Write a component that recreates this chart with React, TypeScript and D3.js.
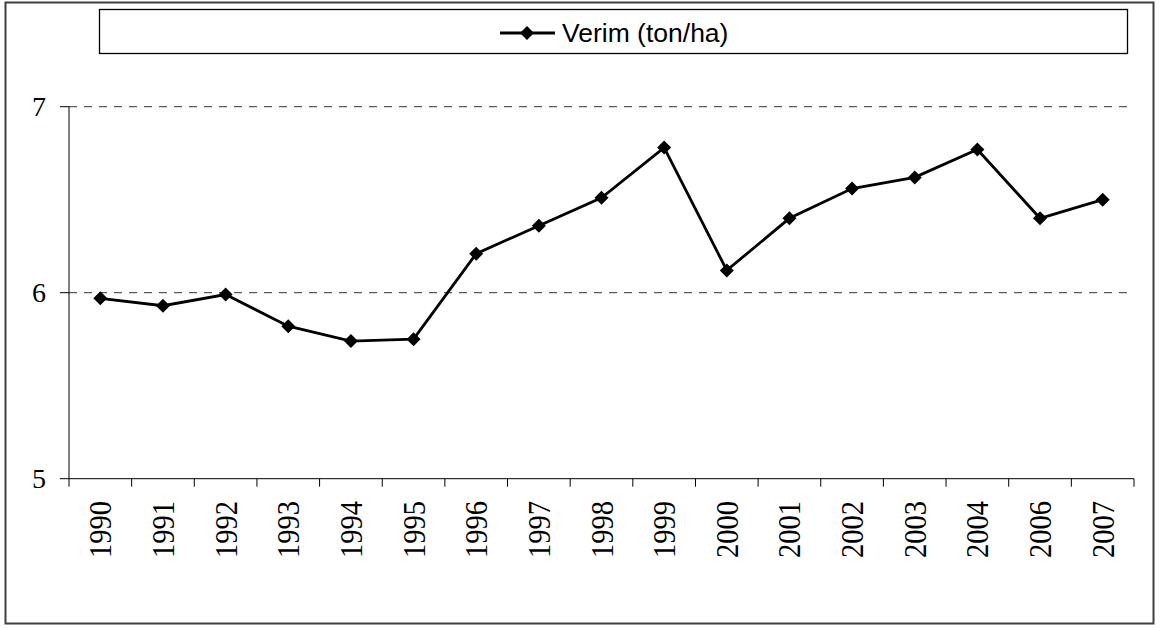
import React, { useEffect, useRef } from "react";
import * as d3 from "d3";

const years = ["1990", "1991", "1992", "1993", "1994", "1995", "1996", "1997", "1998", "1999", "2000", "2001", "2002", "2003", "2004", "2006", "2007"];
const verim = [5.97, 5.93, 5.99, 5.82, 5.74, 5.75, 6.21, 6.36, 6.51, 6.78, 6.12, 6.4, 6.56, 6.62, 6.77, 6.4, 6.5];
const yTicks = [5, 6, 7];
const gridValues = [6, 7];
const seriesName = "Verim (ton/ha)";

const diamond = (r: number) => `M0,${-r}L${r},0L0,${r}L${-r},0Z`;

const App = () => {
  const ref = useRef<SVGSVGElement>(null);

  useEffect(() => {
    const svg = d3.select(ref.current);
    svg.selectAll("*").remove();

    const width = 1162;
    const height = 628;
    const left = 69, right = 1134, top = 106.7, bottom = 478.7;

    svg.attr("width", width).attr("height", height);

    // outer frame
    svg.append("rect")
      .attr("x", 5.5).attr("y", 2.5)
      .attr("width", 1148).attr("height", 621)
      .attr("fill", "#fff")
      .attr("stroke", "#404040")
      .attr("stroke-width", 2);

    const x = d3.scaleBand().domain(years).range([left, right]).padding(0);
    const y = d3.scaleLinear().domain([5, 7]).range([bottom, top]);

    // grid lines
    svg.selectAll(".grid")
      .data(gridValues)
      .enter()
      .append("line")
      .attr("x1", left)
      .attr("x2", right)
      .attr("y1", (d) => y(d))
      .attr("y2", (d) => y(d))
      .attr("stroke", "#333")
      .attr("stroke-width", 1)
      .attr("stroke-dasharray", "8,7");

    // y axis
    svg.append("line")
      .attr("x1", left).attr("x2", left)
      .attr("y1", top).attr("y2", bottom)
      .attr("stroke", "#000");
    svg.selectAll(".ytick")
      .data(yTicks)
      .enter()
      .append("line")
      .attr("x1", left - 9).attr("x2", left)
      .attr("y1", (d) => y(d)).attr("y2", (d) => y(d))
      .attr("stroke", "#000");
    svg.selectAll(".ylab")
      .data(yTicks)
      .enter()
      .append("text")
      .attr("x", 46)
      .attr("y", (d) => y(d) + 9.5)
      .attr("text-anchor", "end")
      .style("font-family", "'Liberation Serif', 'Times New Roman', serif")
      .style("font-size", "28px")
      .text((d) => d);

    // x axis
    svg.append("line")
      .attr("x1", left).attr("x2", right)
      .attr("y1", bottom).attr("y2", bottom)
      .attr("stroke", "#000");
    const edges = years.map((d) => x(d)!).concat([right]);
    svg.selectAll(".xtick")
      .data(edges)
      .enter()
      .append("line")
      .attr("x1", (d) => d).attr("x2", (d) => d)
      .attr("y1", bottom).attr("y2", bottom + 8)
      .attr("stroke", "#000");
    svg.selectAll(".xlab")
      .data(years)
      .enter()
      .append("text")
      .attr("transform", (d) => `translate(${x(d)! + x.bandwidth() / 2 + 11},501) rotate(-90)`)
      .attr("text-anchor", "end")
      .attr("textLength", 57)
      .attr("lengthAdjust", "spacingAndGlyphs")
      .style("font-family", "'Liberation Serif', 'Times New Roman', serif")
      .style("font-size", "32px")
      .text((d) => d);

    // series
    const cx = (i: number) => x(years[i])! + x.bandwidth() / 2;
    const line = d3.line<number>()
      .x((_, i) => cx(i))
      .y((d) => y(d));
    svg.append("path")
      .datum(verim)
      .attr("d", line)
      .attr("fill", "none")
      .attr("stroke", "#000")
      .attr("stroke-width", 2.8);
    svg.selectAll(".pt")
      .data(verim)
      .enter()
      .append("path")
      .attr("d", diamond(7))
      .attr("transform", (d, i) => `translate(${cx(i)},${y(d)})`)
      .attr("fill", "#000");

    // legend
    svg.append("rect")
      .attr("x", 99.5).attr("y", 9.5)
      .attr("width", 1028).attr("height", 44)
      .attr("fill", "#fff")
      .attr("stroke", "#000")
      .attr("stroke-width", 1.3);
    svg.append("line")
      .attr("x1", 500).attr("x2", 555)
      .attr("y1", 33).attr("y2", 33)
      .attr("stroke", "#000")
      .attr("stroke-width", 2.8);
    svg.append("path")
      .attr("d", diamond(7))
      .attr("transform", "translate(527,33)")
      .attr("fill", "#000");
    svg.append("text")
      .attr("x", 562)
      .attr("y", 42)
      .style("font-family", "'Liberation Sans', Arial, sans-serif")
      .style("font-size", "26.5px")
      .text(seriesName);
  }, []);

  return <svg ref={ref} style={{ position: "absolute", left: 0, top: 0 }}></svg>;
};

export default App;
